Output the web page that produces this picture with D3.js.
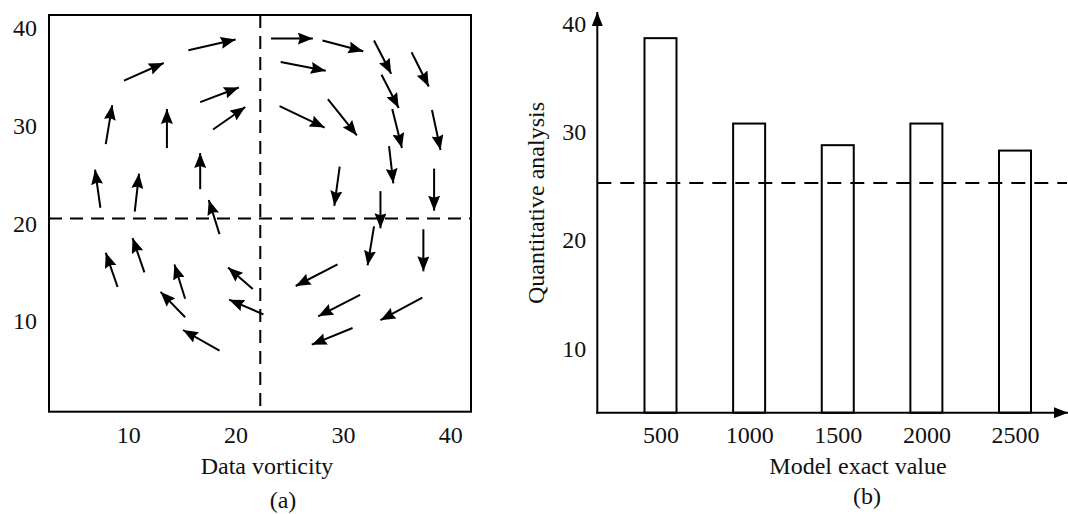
<!DOCTYPE html>
<html>
<head>
<meta charset="utf-8">
<script src="https://cdn.jsdelivr.net/npm/d3@7"></script>
<style>
  body { margin: 0; background: #fff; }
  svg { display: block; }
  text { font-family: "Liberation Serif", "Times New Roman", serif; fill: #111; }
</style>
</head>
<body>
<div class="canvas"><svg width="1068" height="514"></svg></div>
<script>
// ---- data ----
// (a) vector field: arrow tails and heads in data units
var arrowTails = [
    [15.6,37.7],[9.6,34.6],[16.7,32.4],[17.9,29.6],[7.9,28.1],[13.6,27.7],[7.4,21.6],[10.6,21.2],
    [16.7,23.5],[18.5,18.9],[9.0,13.5],[11.5,15.0],[15.3,12.3],[15.3,10.4],[18.5,7.0],[21.6,13.3],
    [22.6,10.7],[23.3,38.9],[28.1,38.7],[32.9,38.7],[36.4,37.5],[24.2,36.5],[33.6,35.2],[24.1,32.0],
    [28.6,32.7],[34.6,31.7],[38.3,31.6],[29.7,25.8],[34.3,27.9],[38.5,25.6],[33.5,23.3],[32.9,19.7],
    [37.5,19.4],[29.5,15.8],[31.6,12.7],[37.4,12.4],[30.9,9.3]
];
var arrowHeads = [
    [20.0,38.8],[13.3,36.4],[20.3,33.9],[20.9,31.9],[8.5,32.1],[13.6,31.7],[6.9,25.5],[11.0,25.1],
    [16.7,27.2],[17.5,22.4],[7.9,17.0],[10.4,18.5],[14.3,15.8],[13.0,13.0],[15.1,9.1],[19.3,15.5],
    [19.4,12.2],[27.2,38.9],[31.9,37.6],[34.5,35.3],[38.0,34.0],[28.4,35.6],[35.2,31.8],[28.3,29.8],
    [31.3,29.0],[35.5,27.7],[39.1,27.5],[29.2,21.8],[34.7,24.1],[38.5,21.3],[33.5,19.5],[32.3,15.7],
    [37.5,15.1],[25.6,13.6],[27.7,10.5],[33.5,10.1],[27.1,7.6]
];
var fieldTicks = [10, 20, 30, 40];
var splitX = 22.3;   // vertical dashed line
var splitY = 20.5;   // horizontal dashed line

// (b) bars
var modelValues = [500, 1000, 1500, 2000, 2500];
var analysisValues = [38.7, 30.8, 28.8, 30.8, 28.3];
var barTicksY = [10, 20, 30, 40];
var refLevel = 25.3;

var svg = d3.select(".canvas").select("svg");

// arrowhead markers
var defs = svg.append("defs");
defs.append("marker")
    .attr("id", "head")
    .attr("viewBox", "0 0 15 12")
    .attr("refX", 15).attr("refY", 6)
    .attr("markerWidth", 15).attr("markerHeight", 12)
    .attr("markerUnits", "userSpaceOnUse")
    .attr("orient", "auto")
    .append("path").attr("d", "M0,0 L15,6 L0,12 L2,6 Z").attr("fill", "#000");
defs.append("marker")
    .attr("id", "axisHead")
    .attr("viewBox", "0 0 14 11")
    .attr("refX", 14).attr("refY", 5.5)
    .attr("markerWidth", 14).attr("markerHeight", 11)
    .attr("markerUnits", "userSpaceOnUse")
    .attr("orient", "auto")
    .append("path").attr("d", "M0,0 L14,5.5 L0,11 Z").attr("fill", "#000");

//==== panel (a) ====
var frameA = {left: 49, right: 471, top: 15, bottom: 411.7};

var xA = d3.scaleLinear().domain([10, 40]).range([128.3, 450.2]);
var yA = d3.scaleLinear().domain([10, 40]).range([321.2, 27.8]);

var gA = svg.append("g").attr("class", "panel-a");

gA.append("rect")
    .attr("x", frameA.left).attr("y", frameA.top)
    .attr("width", frameA.right - frameA.left)
    .attr("height", frameA.bottom - frameA.top)
    .style("fill", "none").style("stroke", "#000").style("stroke-width", 2);

gA.append("line")
    .attr("x1", frameA.left).attr("x2", frameA.right)
    .attr("y1", yA(splitY)).attr("y2", yA(splitY))
    .style("stroke", "#000").style("stroke-width", 2).style("stroke-dasharray", "13,8");
gA.append("line")
    .attr("x1", xA(splitX)).attr("x2", xA(splitX))
    .attr("y1", frameA.top).attr("y2", frameA.bottom)
    .style("stroke", "#000").style("stroke-width", 2).style("stroke-dasharray", "13,8");

var axisAX = d3.axisBottom(xA).tickValues(fieldTicks).tickSize(0).tickPadding(14);
var axisAY = d3.axisLeft(yA).tickValues(fieldTicks).tickSize(0).tickPadding(12);

gA.append("g").attr("class", "axis axis-x")
    .attr("transform", "translate(0," + frameA.bottom + ")")
    .call(axisAX);
gA.append("g").attr("class", "axis axis-y")
    .attr("transform", "translate(" + frameA.left + ",0)")
    .call(axisAY);

// arrows
gA.selectAll(".vec")
    .data(arrowTails.map(function(t, i){ return {from: t, to: arrowHeads[i]}; }))
    .enter()
    .append("line").attr("class", "vec")
    .attr("x1", function(d){ return xA(d.from[0]); })
    .attr("y1", function(d){ return yA(d.from[1]); })
    .attr("x2", function(d){ return xA(d.to[0]); })
    .attr("y2", function(d){ return yA(d.to[1]); })
    .style("stroke", "#000").style("stroke-width", 2)
    .attr("marker-end", "url(#head)");

gA.append("text")
    .attr("x", 267).attr("y", 466).attr("dy", "0.35em")
    .attr("text-anchor", "middle").style("font-size", "24px")
    .text("Data vorticity");
gA.append("text")
    .attr("x", 283).attr("y", 500).attr("dy", "0.35em")
    .attr("text-anchor", "middle").style("font-size", "24px")
    .text("(a)");

//==== panel (b) ====
var originB = {x: 597.3, y: 412.7};
var xB = d3.scaleLinear().domain([500, 2500]).range([660.5, 1015]);
var yB = d3.scaleLinear().domain([10, 40]).range([348.4, 24.1]);
var barWidth = 32;

var gB = svg.append("g").attr("class", "panel-b");

gB.append("line")
    .attr("x1", originB.x).attr("x2", 1067)
    .attr("y1", yB(refLevel)).attr("y2", yB(refLevel))
    .style("stroke", "#000").style("stroke-width", 2).style("stroke-dasharray", "14,9");

gB.selectAll(".bar")
    .data(modelValues)
    .enter()
    .append("rect").attr("class", "bar")
    .attr("x", function(d){ return xB(d) - barWidth / 2; })
    .attr("y", function(d, i){ return yB(analysisValues[i]); })
    .attr("width", barWidth)
    .attr("height", function(d, i){ return originB.y - yB(analysisValues[i]); })
    .style("fill", "none").style("stroke", "#000").style("stroke-width", 2);

var axisBX = d3.axisBottom(xB).tickValues(modelValues).tickSize(0).tickPadding(13)
    .tickFormat(d3.format("d"));
var axisBY = d3.axisLeft(yB).tickValues(barTicksY).tickSize(0).tickPadding(11);

gB.append("g").attr("class", "axis axis-x")
    .attr("transform", "translate(0," + originB.y + ")")
    .call(axisBX);
gB.append("g").attr("class", "axis axis-y")
    .attr("transform", "translate(" + originB.x + ",0)")
    .call(axisBY);

// axis lines with arrowheads
gB.append("line")
    .attr("x1", originB.x).attr("x2", originB.x)
    .attr("y1", originB.y + 1).attr("y2", 12)
    .style("stroke", "#000").style("stroke-width", 2)
    .attr("marker-end", "url(#axisHead)");
gB.append("line")
    .attr("x1", originB.x - 1).attr("x2", 1068)
    .attr("y1", originB.y).attr("y2", originB.y)
    .style("stroke", "#000").style("stroke-width", 2)
    .attr("marker-end", "url(#axisHead)");

gB.append("text")
    .attr("transform", "translate(536,203) rotate(-90)")
    .attr("dy", "0.35em")
    .attr("text-anchor", "middle").style("font-size", "24px")
    .text("Quantitative analysis");
gB.append("text")
    .attr("x", 858).attr("y", 466).attr("dy", "0.35em")
    .attr("text-anchor", "middle").style("font-size", "24px")
    .text("Model exact value");
gB.append("text")
    .attr("x", 867).attr("y", 496).attr("dy", "0.35em")
    .attr("text-anchor", "middle").style("font-size", "24px")
    .text("(b)");

// shared axis styling
svg.selectAll(".axis .domain").remove();
svg.selectAll(".axis text")
    .style("font-size", "24px")
    .style("font-family", "'Liberation Serif', 'Times New Roman', serif")
    .style("fill", "#111");
</script>
</body>
</html>
